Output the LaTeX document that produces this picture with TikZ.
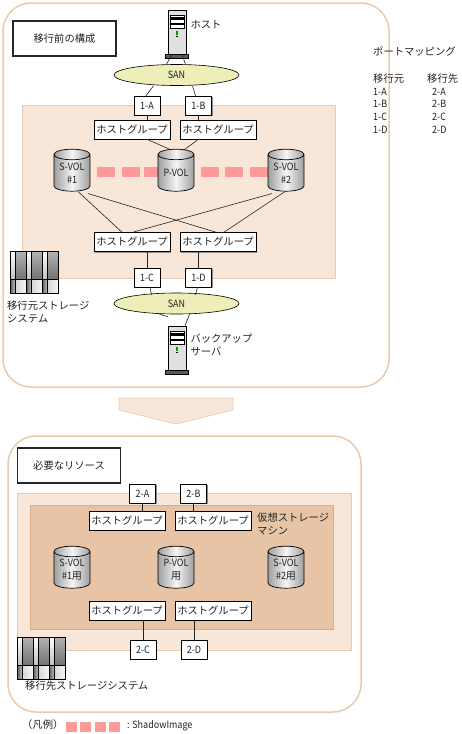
\documentclass[tikz,border=0pt]{standalone}
\usepackage{fontspec}
\setmainfont[FakeStretch=0.9]{Noto Sans CJK JP}
\newfontfamily\jpfont{Noto Sans CJK JP}
\usetikzlibrary{shapes.geometric, positioning, calc, shadows}
\definecolor{frame}{HTML}{E8CBAF}
\definecolor{pool}{HTML}{F8E7D8}
\definecolor{vsm}{HTML}{E6C4A5}
\definecolor{vsmline}{HTML}{D9AE88}
\definecolor{sanfill}{HTML}{EEEEB8}
\definecolor{pair}{HTML}{FF9A9A}
\definecolor{ink}{HTML}{222222}
\tikzset{
  jptext/.style = {font=\jpfont\fontsize{10.3}{13}\selectfont, text=ink, inner sep=0pt,
                  anchor=west, align=left},
  lattext/.style= {font=\fontsize{10}{12}\selectfont, text=ink, inner sep=0pt, anchor=west},
  panel/.style  = {draw=frame, line width=1.5pt, fill=white, rounded corners=28pt},
  area/.style   = {draw=frame, line width=0.7pt, fill=pool},
  inner/.style  = {draw=vsmline, line width=0.7pt, fill=vsm},
  title/.style  = {draw=black!85, line width=1.2pt, fill=white, minimum width=103pt,
                  minimum height=35pt, inner sep=0pt, text=ink,
                  font=\jpfont\fontsize{10.3}{13}\selectfont},
  boxshadow/.style = {drop shadow={shadow xshift=1pt, shadow yshift=-1pt, fill=black!45, opacity=1}},
  port/.style   = {draw=black, line width=0.6pt, fill=white, minimum width=26pt,
                  minimum height=19pt, inner sep=0pt, text=ink, boxshadow,
                  font=\fontsize{10}{12}\selectfont},
  hgroup/.style = {draw=black, line width=0.6pt, fill=white, minimum width=76pt,
                  minimum height=19pt, inner sep=0pt, text=ink, boxshadow,
                  font=\jpfont\fontsize{10.3}{13}\selectfont},
  san/.style    = {ellipse, draw=black, line width=0.6pt, fill=sanfill, minimum width=125pt,
                  minimum height=21pt, inner sep=0pt, text=ink,
                  font=\fontsize{10}{12}\selectfont},
  vol/.style    = {cylinder, shape border rotate=90, aspect=0.42, draw=black, line width=0.7pt,
                  path picture={\shade[left color=black!38, right color=black!38, middle color=black!4]
                    (path picture bounding box.south west) rectangle (path picture bounding box.north east);},
                  minimum width=36pt, minimum height=42pt, inner sep=0pt, text=ink,
                  align=center, font=\fontsize{10}{13}\selectfont},
  srv/.style    = {draw=black, line width=0.6pt, fill=black!12, minimum width=18pt,
                  minimum height=44pt, inner sep=0pt},
  pairbar/.style= {fill=pair, draw=none, minimum height=10pt, inner sep=0pt},
  link/.style   = {draw=ink, line width=0.6pt},
  server/.pic   = {
    \fill[black!65] (-11.5,22) rectangle (11.5,26);
    \draw[black, line width=0.3pt] (-11.5,22) rectangle (11.5,26);
    \draw[line width=0.4pt, fill=white] (-7,-17) rectangle (7,-4);
    \fill[black] (-6.5,-15) rectangle (6.5,-12);
    \fill[black] (-6.5,-9.5) rectangle (6.5,-7.5);
    \fill[green!60!black] (-0.7,-1) rectangle (0.7,3);
    \fill[black] (-0.7,4) rectangle (0.7,5);
  },
  storage/.pic  = {
    \foreach \col in {0,16,32}{
      \shade[top color=white, bottom color=black!25] (\col,0) rectangle +(5,28);
      \shade[top color=black!30, bottom color=black!55] (\col+6,0) rectangle +(10,28);
      \shade[left color=black!65, right color=black!25] (\col,28) rectangle +(5,14);
      \shade[left color=black!15, right color=black!4] (\col+6,28) rectangle +(10,14);
    }
    \draw[black, line width=1pt] (0,0) rectangle (48,42);
    \draw[black, line width=0.9pt] (0,28) -- (48,28);
    \foreach \col in {16,32}{ \draw[black, line width=1pt] (\col,0) -- +(0,42); }
    \foreach \col in {5.5,21.5,37.5}{ \draw[black, line width=0.5pt] (\col,0) -- +(0,42); }
  },
}

\begin{document}
\begin{tikzpicture}[x=1pt, y=-1pt]
\useasboundingbox (0,0) rectangle (461,734);

% before
\draw[panel] (3,3) rectangle (389,387);
\draw[area] (22,105) rectangle (335,278);
\node[title] (before) at (64.5,38.5) {移行前の構成};

\node[srv] (host) at (177,32) {};
\pic at (177,32) {server};
\node[jptext, right=4pt of host, yshift=7pt] (hostlabel) {ホスト};
\node[san] (san1) at (176.5,75) {SAN};
\node[port] (p1a) at (147,105.5) {1-A};
\node[port] (p1b) at (198.5,105.5) {1-B};
\node[hgroup] (hg1) at (132,129.5) {ホストグループ};
\node[hgroup] (hg2) at (218,129.5) {ホストグループ};

\foreach \xpos/\wid in {97/18,122/18,144/18,201/18,225/18,250/18}
  \node[pairbar, minimum width=\wid pt] (bar\xpos) at (\xpos+\wid/2,172) {};

\node[vol] (sv1) at (72,173) {S-VOL\\\#1};
\node[vol] (pv) at (176,173) {P-VOL};
\node[vol] (sv2) at (286,173) {S-VOL\\\#2};

\node[hgroup] (hg3) at (132,242) {ホストグループ};
\node[hgroup] (hg4) at (218,242) {ホストグループ};
\node[port] (p1c) at (147,277.5) {1-C};
\node[port] (p1d) at (198.5,277.5) {1-D};
\node[san] (san2) at (176.5,303.5) {SAN};
\node[srv] (backup) at (177,348) {};
\pic at (177,348) {server};
\node[jptext, right=4pt of backup, yshift=3pt] (backuplabel) {バックアップ\\サーバ};

\pic at (10,251) {storage};
\node[jptext] (srclabel) at (7,312) {移行元ストレージ\\システム};

\draw[link] ([xshift=-5pt]host.south) -- ([xshift=-10pt]san1.north);
\draw[link] ([xshift=5pt]host.south) -- ([xshift=9pt]san1.north);
\draw[link] ([xshift=-23pt]san1.south) -- ([xshift=-1pt]p1a.north);
\draw[link] ([xshift=16pt]san1.south) -- ([xshift=-3pt]p1b.north);
\draw[link] (p1a) -- (p1a|-hg1.north);
\draw[link] (p1b) -- (p1b|-hg2.north);
\draw[link] (p1a|-hg1.south) -- ([xshift=-5pt,yshift=-1pt]pv.north);
\draw[link] (p1b|-hg2.south) -- ([xshift=8pt,yshift=-1pt]pv.north);
\draw[link] ([xshift=6pt]sv1.south) -- ([xshift=-10pt]hg3.north);
\draw[link] ([xshift=16pt,yshift=-2pt]sv1.south) -- ([xshift=-2pt]hg4.north);
\draw[link] ([xshift=-14pt,yshift=-2pt]sv2.south) -- ([xshift=1pt]hg3.north);
\draw[link] ([xshift=-1pt]sv2.south) -- ([xshift=6pt]hg4.north);
\draw[link] (p1c|-hg3.south) -- (p1c.north);
\draw[link] (p1d|-hg4.south) -- (p1d.north);
\draw[link] ([xshift=3pt]p1c.south) -- ([xshift=-25pt,yshift=-2pt]san2.north);
\draw[link] ([xshift=-1pt]p1d.south) -- ([xshift=19pt,yshift=-2pt]san2.north);
\draw[link] ([xshift=-17pt]san2.south) -- ([xshift=-9pt,yshift=9pt]backup.north);
\draw[link] ([xshift=13pt]san2.south) -- ([xshift=8pt]backup.north);

% chevron
\coordinate (tip) at (176,424);
\draw[draw=frame, line width=0.7pt, fill=pool] (119,398) -- (233,398) -- (233,410) -- (tip) -- (119,410) -- cycle;

% after
\draw[panel] (8,436) rectangle (361,712);
\draw[area] (17,493) rectangle (351,650);
\draw[inner] (30,505) rectangle (333,629);
\node[title] (after) at (69,465.5) {必要なリソース};
\node[port] (p2a) at (142.5,493.5) {2-A};
\node[port] (p2b) at (193.5,493.5) {2-B};
\node[hgroup] (hg5) at (127,520.5) {ホストグループ};
\node[hgroup] (hg6) at (213,520.5) {ホストグループ};
\node[jptext] (vsmlabel) at (257,523.5) {仮想ストレージ\\マシン};
\node[vol] (sv3) at (72,570) {S-VOL\\\#1{\jpfont 用}};
\node[vol] (pv2) at (176,570) {P-VOL\\{\jpfont 用}};
\node[vol] (sv4) at (286,570) {S-VOL\\\#2{\jpfont 用}};
\node[hgroup] (hg7) at (127,610.5) {ホストグループ};
\node[hgroup] (hg8) at (213,610.5) {ホストグループ};
\node[port] (p2c) at (143,649.5) {2-C};
\node[port] (p2d) at (194,649.5) {2-D};
\pic at (17,637) {storage};
\node[jptext] (dstlabel) at (25,686) {移行先ストレージシステム};

\draw[link] (p2a.south) -- (p2a|-hg5.north);
\draw[link] (p2b.south) -- (p2b|-hg6.north);
\draw[link] (p2c|-hg7.south) -- (p2c.north);
\draw[link] (p2d|-hg8.south) -- (p2d.north);

% port mapping
\node[jptext] (maphead) at (373,52) {ポートマッピング};
\node[jptext] (srchead) at (373,79) {移行元};
\node[jptext] (dsthead) at (427,79) {移行先};
\foreach \row/\ypos in {A/91.5,B/104,C/117,D/129.5}{
  \node[lattext] (src\row) at (373,\ypos) {1-\row};
  \node[lattext] (dst\row) at (432,\ypos) {2-\row};
}

% legend
\node[jptext] (legend) at (22,725) {（凡例）};
\foreach \xpos in {66,80,94.5,109}
  \node[pairbar, minimum width=11pt, anchor=west] (key\xpos) at (\xpos,727) {};
\node[lattext] (keytext) at (127,725.5) {: ShadowImage};

\end{tikzpicture}
\end{document}
